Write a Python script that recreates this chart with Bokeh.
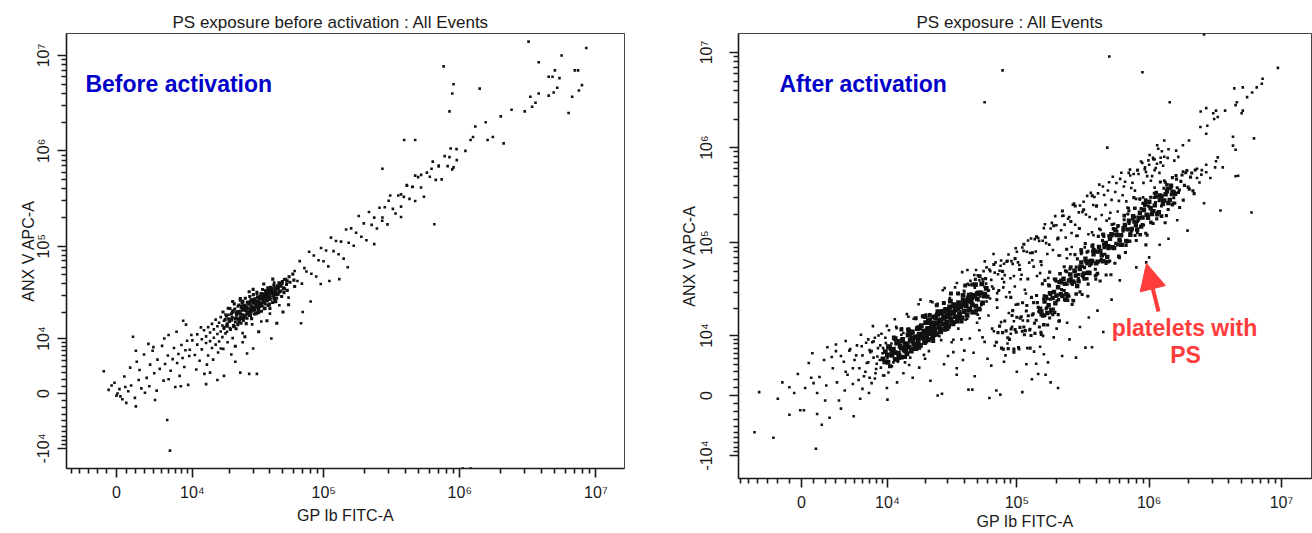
import numpy as np
from bokeh.plotting import figure
from bokeh.layouts import row
from bokeh.models import Range1d, FixedTicker, CustomJSTickFormatter, Label, Arrow, NormalHead
from bokeh.embed import file_html
from bokeh.resources import INLINE

# ---------------- data (fluorescence values, in thousands) ----------------
# Left panel: "PS exposure before activation"
before_tail_x = [-1.3, -0.8, -0.2, 0.1, 0.4, 0.9, 0.3, 0.6, 1.2, 1.5, 1.9, 2.0, 1.7, 2.3, 2.6, 2.4, 2.9, 3.2, 3.5, 3.6, 3.9, 4.2, 4.1, 4.5, 4.8, 5.1, 5.3, 5.5, 5.8, 6.2, 5.9, 6.3, 6.6, 6.8, 7.0, 7.3, 7.5, 7.7, 8.0, 8.2, 8.5, 8.7, 9.0, 9.2, 9.4, 0.8, 1.4, 2.1, 3.0, 1.0, 0.0, -0.5, 4.4, 6.0, 7.9, 2.0, 4.0, 5.4, 6.0, 8.3, 8.8, 7.2, 3.4]
before_tail_y = [3.2, 0.5, 1.5, 0.0, -0.4, 0.9, 0.6, -0.8, 0.3, 1.1, -0.6, -1.8, 10.5, 1.9, 0.7, 3.4, 6.2, 2.2, 1.0, 4.3, 7.0, -0.9, 2.9, 5.2, 3.6, 8.1, 1.8, 4.4, -3.9, -10.6, 6.0, 3.3, 5.3, 7.6, 0.9, 4.6, 6.3, 2.5, 8.3, 5.5, 3.9, 7.1, 9.4, 1.2, 5.9, 2.4, 3.8, 4.8, 0.1, -1.3, -0.3, 1.1, 0.4, 2.0, 1.0, 7.0, 7.8, 10.0, 11.0, 16.0, 14.5, 12.0, 8.6]

before_ramp_x = [9.5, 10, 10.5, 11, 11, 11.5, 12, 12, 12.5, 13, 13, 13.5, 13.5, 14, 14, 14.5, 14.5, 15, 15, 15.5, 15.5, 16, 16, 16.5, 16.5, 17, 17, 17.5, 17.5, 18, 18, 18.5, 18.5, 19, 19, 19.5, 20, 20, 10.8, 12.6, 11.8, 9.8, 13.2, 14.8, 16.2, 17.8, 19.2, 13, 14, 16, 18, 24, 27, 28, 32, 41, 22, 20.5, 25, 30]
before_ramp_y = [7.2, 9.5, 6.1, 8.4, 11.2, 5.0, 9.8, 7.3, 12.5, 8.8, 10.6, 6.0, 13.6, 9.3, 11.8, 7.6, 14.8, 10.2, 12.8, 8.4, 16.5, 11.3, 13.9, 9.2, 15.2, 12.1, 17.6, 10.4, 14.2, 13.0, 16.0, 11.5, 18.8, 14.6, 12.0, 16.9, 13.3, 15.6, 3.5, 2.8, 13.5, 11.0, 4.3, 5.2, 6.6, 7.4, 9.0, 1.3, 3.0, 1.9, 2.5, 3.0, 6.4, 2.8, 2.8, 10, 4.8, 6.2, 9.0, 7.5]

before_blob_x = [18.0, 18.4, 17.7, 19.1, 18.8, 19.4, 20.2, 19.7, 20.5, 20.0, 21.3, 20.8, 21.1, 21.6, 22.0, 22.5, 21.8, 22.3, 23.1, 22.7, 23.4, 23.0, 24.2, 23.8, 24.5, 24.0, 24.3, 25.1, 25.5, 24.8, 25.3, 26.0, 26.4, 25.8, 26.2, 26.6, 27.2, 26.9, 27.5, 27.0, 28.1, 28.5, 27.8, 28.3, 29.0, 29.4, 28.8, 29.2, 30.3, 29.8, 30.6, 30.1, 31.0, 31.5, 30.8, 32.2, 31.8, 32.6, 32.0, 33.1, 33.6, 32.9, 34.2, 33.8, 34.6, 35.0, 35.5, 34.8, 35.3, 36.3, 35.9, 36.7, 37.1, 37.6, 36.9, 38.2, 37.8, 38.6, 39.0, 39.5, 38.8, 40.2, 39.7, 40.6, 40.0, 42.3, 41.6, 42.8, 41.9, 44.2, 43.5, 44.8, 46.1, 45.5, 46.7, 48.3, 47.6, 48.9, 50.2, 49.5, 50.9, 53.1, 52.4, 53.8, 56.3, 55.5, 60.2, 59.1, 61.0, 22, 26, 33, 38, 45, 50, 55, 24, 30, 36, 42, 21, 28]
before_blob_y = [13.5, 16.5, 20.0, 14.8, 18.0, 22.0, 12.8, 16.0, 19.0, 21.8, 14.2, 17.5, 20.6, 24.5, 15.5, 18.4, 21.5, 13.0, 16.8, 19.9, 23.8, 14.5, 17.5, 20.4, 23.0, 26.8, 15.0, 18.7, 21.6, 24.9, 16.2, 18.1, 21.0, 23.6, 28.2, 14.9, 19.5, 22.6, 25.7, 17.1, 18.6, 21.3, 24.4, 29.4, 20.1, 23.1, 26.9, 16.9, 21.7, 25.1, 19.0, 30.8, 20.9, 23.8, 27.7, 22.5, 26.3, 19.7, 32.6, 24.3, 28.1, 21.4, 25.0, 29.7, 20.4, 23.3, 27.0, 31.6, 34.9, 25.8, 28.9, 22.0, 27.8, 32.3, 24.5, 26.5, 30.4, 36.2, 29.1, 33.2, 23.5, 27.3, 31.4, 36.9, 21.9, 29.9, 34.0, 38.7, 25.4, 32.1, 36.4, 28.2, 31.1, 35.5, 41.2, 33.7, 38.9, 29.4, 36.4, 42.3, 32.3, 39.4, 44.9, 34.2, 41.6, 47.6, 43.9, 50.8, 37.5, 8.0, 10.5, 12.0, 16, 15, 20, 24, 28, 35, 40, 45, 26, 33]

before_blob_edge = [(17, 7.5), (19.5, 18.7), (21, 10.1), (23, 23.0), (25, 11.6), (27, 25.5), (29.5, 14.6), (32, 31.2), (34.5, 15.7), (37, 34.0), (40, 19.2), (43, 41.3), (47, 23.7), (51, 44.9), (55, 28.6)]

before_core_x = [22, 24, 25, 26, 27, 28, 29, 30, 31, 32, 33, 34, 35, 36, 37, 38, 39, 40, 42, 44, 46, 48, 26, 30, 34, 28, 23, 36, 40, 45]
before_core_y = [17, 19, 21, 18, 22, 20, 23, 21, 25, 23, 26, 24, 28, 26, 29, 27, 31, 29, 32, 34, 36, 38, 23, 26, 29, 25, 20, 31, 34, 31]

before_core_2 = [(19, 14), (20.5, 16.5), (21.5, 13.8), (22.5, 19.5), (23.5, 15.6), (24.5, 22.5), (25.5, 17.2), (26.5, 20.8), (27.5, 24.8), (28.5, 18.5), (29.5, 27.0), (30.5, 22.4), (31.5, 19.3), (32.5, 28.8), (33.5, 23.0), (34.5, 31.5), (35.5, 25.5), (36.5, 21.8), (37.5, 33.5), (38.5, 28.5), (39.5, 24.2), (41.0, 35.5), (42.5, 30.5), (44.0, 26.0), (45.5, 38.0), (47.0, 33.0), (49.0, 40.5), (51.0, 35.5), (53.5, 43.0), (21, 20), (24, 17), (27, 19), (30, 27), (33, 20), (36, 30), (39, 36), (43, 28), (25, 26), (29, 21.5), (32, 24.5)]

before_band = [(61, 54.7), (64, 43.0), (66.5, 69.7), (69, 40.3), (72, 58.8), (74.5, 54.2), (78, 87.4), (81, 51.2), (84.5, 79.8), (88, 47.9), (91.5, 71.0), (95.5, 95.5), (99.5, 69.3), (104, 89.9), (108, 61.3), (113, 122.9), (118, 88.7), (123, 113.2), (128.5, 82.2), (134, 111.5), (140, 73.9), (146, 149.5), (152.5, 108.6), (159, 153.9), (166, 100.9), (173, 138.4), (181, 207.1), (189, 125.5), (197, 173.4), (206, 115.4), (215, 228.8), (225, 167.4), (235, 199.3), (246, 153.5), (257, 252.9), (269, 185.1), (281, 256.3), (294, 169.3), (308, 340.7), (322, 246.6), (337, 220.3), (353, 340.3), (370, 202.1), (388, 329.1), (407, 437.2), (427, 314.0), (448, 417.8), (470, 297.6), (494, 530.6), (519, 412.8), (545, 329.7), (573, 591.6), (602, 534.4), (633, 770.7), (666, 496.4), (700, 685.2), (736, 502.8), (774, 880.4), (814, 691.4), (856, 1060.8), (900, 671.4), (946, 1044), (235, 105), (68, 15), (80, 26), (110, 43), (70, 20), (95, 40), (150, 60), (130, 45)]

before_high_x = [270, 270, 300, 370, 370, 410, 450, 470, 520, 620, 650, 700, 840, 880, 950, 1100, 1200, 1250, 1300, 1550, 1600, 1750, 2000, 2100, 2400, 3000, 3300, 3400, 3600, 3800, 4500, 4500, 4800, 4900, 5200, 5400, 5600, 3800, 3200, 5000, 6300, 6700, 7000, 7400, 7500, 7900, 8500, 4300, 760, 900, 880, 840, 1400, 390, 470, 1050, 1200]
before_high_y = [200, 650, 300, 350, 260, 430, 420, 550, 560, 650, 170, 700, 860, 640, 800, 1000, 1300, 1400, 1800, 2000, 1300, 1400, 2300, 1200, 2700, 2600, 3700, 2900, 3200, 4000, 3800, 6000, 6000, 4100, 4600, 5800, 10000, 8500, 14000, 7000, 2500, 3700, 7000, 7000, 4300, 4900, 12000, 18500, 7700, 5000, 4000, 2600, 4500, 1300, 1300, -17, -17]

# Right panel: "PS exposure" (after activation)
after_tail_x = [-4.3, -3.8, -2.4, -1.6, -1.0, -1.0, -0.3, -0.1, 0.2, 0.6, 0.8, 1.2, 1.7, 1.3, 1.5, 2.0, 1.3, 2.1, 2.6, 2.7, 3.1, 3.5, 3.3, 3.9, 4.9, 4.8, 5.9, 5.5, 6.4, 6.6, 7.1, 8.2, 10, 7.8, 0.3, -0.6, 1.9, 3.0, 4.2, 5.2, 6.0, 7.4, 8.8, 9.2, 2.4, 3.8, 4.5, 5.7, 6.8, 0.9, 2.2, 4.0, 1.0, -2.0]
after_tail_y = [-5.0, 0.4, -6.0, 1.6, 1.0, -2.4, 2.7, -1.8, -1.8, 4.3, 2.2, -8.3, -3.8, -2.3, 2.3, -0.6, 0.3, 1.2, 5.3, 3.5, 1.6, -1.6, -0.6, 0.6, -2.6, 3.5, 7.4, 1.9, 3.0, 4.3, 6.2, 5.4, -0.5, 2.1, 0.9, 0.3, 4.8, 6.4, 2.6, 5.6, 0.8, 8.3, 3.6, 7.0, -2.8, 4.5, 6.8, -0.4, 9.0, 6.0, 7.2, 8.6, 1.5, -0.4]

after_rise_x = [3.5, 4.0, 4.4, 4.8, 5.0, 5.3, 5.6, 6.0, 6.2, 6.5, 6.8, 7.0, 7.3, 7.6, 7.8, 8.0, 8.3, 8.6, 8.9, 9.1, 9.4, 9.7, 10, 10.3, 10.6, 10.9, 11.2, 11.5, 11.8, 12.2, 12.5, 13, 13.5, 14, 14.5, 15, 3.0, 5.8, 7.5, 6.9, 9.9, 12, 16, 18, 20, 22, 28, 35, 33]
after_rise_y = [5.5, 3.0, 6.5, 1.4, 4.8, 7.6, 3.5, 5.6, 2.4, 8.2, 4.4, 6.6, 1.5, 5.2, 9.4, 3.4, 7.0, 4.8, 10.5, 6.0, 2.5, 8.1, 5.1, 11.5, 7.0, 3.8, 9.2, 6.0, 12.6, 4.5, 8.0, 10.2, 2.8, 6.4, 11.8, 4.0, 7.8, 10.2, 12.8, 0.3, 0.9, 1.6, 2.2, 3.6, 5.0, 1.8, 4.1, 2.6, 6.2]

after_main_core = [(9.2, 5.0), (9.6, 6.3), (10.1, 4.4), (10.4, 7.2), (10.9, 5.6), (11.2, 6.8), (11.6, 4.9), (11.9, 8.1),
                   (12.3, 6.0), (12.7, 7.4), (13.0, 5.3), (13.3, 9.0), (13.7, 6.6), (14.0, 8.0), (14.4, 5.9), (14.7, 10.1), (14.9, 7.2),
                   (15.3, 8.8), (15.6, 6.4), (15.9, 11.0), (16.3, 7.9), (16.7, 9.6), (17.0, 6.9), (17.4, 12.0), (17.7, 8.6), (18.0, 10.4),
                   (18.4, 7.6), (18.7, 13.0), (19.1, 9.3), (19.5, 11.3), (19.8, 8.2), (20.2, 14.0), (20.6, 10.0), (20.9, 12.1), (21.3, 8.9),
                   (21.7, 15.1), (22.1, 10.8), (22.5, 13.0), (22.9, 9.6), (23.3, 16.2), (23.8, 11.6), (24.2, 14.0), (24.6, 10.3), (25.0, 17.3),
                   (25.5, 12.5), (25.9, 15.0), (26.4, 11.0), (26.9, 18.5), (27.3, 13.4), (27.8, 16.1), (28.3, 11.8), (28.8, 19.6), (29.3, 14.3), (29.8, 17.2),
                   (30.3, 12.7), (30.9, 20.8), (31.5, 15.3), (32.1, 18.3), (32.7, 13.6), (33.3, 22.0), (34.0, 16.3), (34.7, 19.5), (35.4, 14.6), (36.1, 23.2),
                   (36.8, 17.4), (37.6, 20.8), (38.4, 15.8), (39.2, 24.6), (40.1, 18.6), (41.0, 22.2), (42.0, 16.9), (43.0, 26.0), (44.0, 19.9), (45.1, 23.7),
                   (46.3, 18.3), (47.5, 27.6), (48.8, 21.3), (50.2, 25.4), (51.7, 19.8), (53.3, 29.4), (55.0, 23.0), (56.8, 27.3), (58.7, 33.0),
                   (10.0, 5.7), (11.5, 6.1), (13.0, 7.0), (14.5, 7.8), (16.0, 8.5), (17.5, 9.3), (19.0, 10.2), (20.5, 11.1), (22.0, 12.0), (23.5, 12.9),
                   (25.0, 13.8), (26.5, 14.7), (28.0, 15.6), (29.5, 16.4), (31.0, 17.3), (32.5, 18.3), (34.0, 19.2), (35.5, 20.1), (37.0, 21.0), (38.5, 22.0),
                   (40.0, 23.0), (42.0, 24.1), (44.0, 25.3), (46.0, 26.5), (48.0, 27.7), (50.0, 28.9),
                   (12.1, 8.5), (15.1, 10.3), (18.1, 12.2), (21.1, 14.0), (24.1, 15.9), (27.1, 17.8), (30.1, 19.6), (33.1, 21.4),
                   (14.1, 6.4), (17.1, 7.6), (20.1, 8.9), (23.1, 10.2), (26.1, 11.5), (29.1, 12.9), (32.1, 14.3), (36.0, 16.0)]

after_main_core_2 = [(9.5, 4.5), (10.2, 7.3), (10.9, 6.0), (11.6, 9.2), (12.4, 5.2), (13.2, 8.6), (14.0, 7.1), (14.9, 11.2), (15.8, 9.3), (16.8, 7.6), (17.8, 12.3), (18.9, 10.0), (20.0, 16.4), (21.2, 10.5), (22.4, 13.9), (23.7, 10.4), (25.1, 18.5), (26.5, 14.9), (28.0, 18.7), (29.6, 13.7), (31.3, 24.1), (33.1, 17.9), (35.0, 21.3), (37.0, 15.9), (39.1, 27.7), (41.3, 21.3), (43.6, 27.8), (46.0, 22.1), (48.6, 36.1), (51.3, 29.5), (54.2, 36.8), (57.2, 28.5)]

after_main_core_3 = [(10.5, 3.8), (11.3, 9.5), (12.1, 4.9), (13.0, 11.7), (13.9, 5.3), (14.8, 11.8), (15.8, 6.9), (16.9, 15.7), (18.0, 7.1), (19.2, 16.5), (20.4, 8.5), (21.7, 17.0), (23.1, 8.6), (24.6, 21.7), (26.2, 11.9), (27.9, 23.0), (29.7, 11.9), (31.6, 29.0), (33.6, 14.2), (35.8, 29.1), (38.1, 14.4), (40.6, 35.3), (43.2, 19.0), (46.0, 36.3), (49.0, 19.0), (52.2, 44.2)]

after_main_halo_1 = [(7, 2.2), (7.6, 8.5), (8.1, 4.2), (8.7, 7.6), (9.2, 2.5), (9.9, 12.9), (10.5, 6.7), (11.2, 4.4), (11.9, 12.1), (12.7, 5.8), (13.5, 10.7), (14.4, 17.4), (15.3, 5.2), (16.3, 15.5), (17.3, 10.0), (18.4, 25.0), (19.6, 5.7), (20.8, 15.2), (22.1, 23.9), (23.5, 9.9), (25.0, 22.5), (26.6, 8.8), (28.3, 33.1), (30.1, 18.4), (32.0, 8.3), (34.0, 33.7), (36.2, 17.7), (38.5, 48.9), (40.9, 15.1), (43.5, 35.7), (46.2, 25.4), (49.1, 51.6), (52.2, 15.7), (55.5, 38.9), (59.0, 54.9), (62.7, 25.7), (66.6, 75.9), (70.8, 24.8), (75.3, 57.2), (80.0, 38.4)]

after_main_halo_2 = [(7.3, 6.4), (7.9, 2.8), (8.4, 10.0), (9.0, 5.1), (9.6, 9.4), (10.2, 2.9), (10.8, 8.0), (11.5, 15.3), (12.3, 5.4), (13.1, 12.1), (13.9, 4.4), (14.8, 16.3), (15.8, 10.4), (16.8, 6.7), (17.8, 22.3), (19.0, 10.1), (20.2, 17.2), (21.4, 6.4), (22.8, 23.5), (24.2, 17.2), (25.8, 9.8), (27.4, 31.5), (29.2, 17.2), (31.0, 26.0), (33.0, 8.9), (35.1, 37.6), (37.3, 18.7), (39.7, 31.0), (42.2, 51.5), (44.8, 19.3), (47.6, 45.7), (50.6, 17.2), (53.8, 36.0), (57.2, 63.5), (60.8, 27.4)]

after_mid_1 = [(40, 30.5), (43, 19.6), (44.5, 39.7), (47, 28.1), (49, 17.7), (52, 40.2), (53, 27.0), (56, 50.1), (58.5, 37.0), (60, 26.3), (63, 50.1), (65, 34.5), (68, 48.4), (70.5, 25.0), (72, 46.5), (76, 65.0), (79, 33.7), (81, 45.5), (85, 64.6), (88, 29.9), (91, 63.9), (95, 44.6), (98, 87.4), (102, 62.0), (107, 41.1), (110, 89.1), (115, 31.8), (119, 80.4), (124, 61.7), (128, 110.9), (134, 56.0), (139, 80.7), (145, 112.1), (150, 47.8), (157, 105.0), (163, 156.2), (170, 76.1), (176, 95.5), (184, 161.8), (191, 41.6), (199, 152.8), (207, 73.2), (216, 135.2), (225, 192.8), (234, 113.4), (244, 178.4), (254, 75.6), (265, 250.4), (276, 154.5), (288, 118.5), (300, 246.0), (313, 210.2), (326, 89.3), (340, 310.9), (355, 186.5), (370, 128.5), (386, 302.1), (402, 246.5), (420, 408.7), (438, 195.7), (457, 317.6), (477, 170.7), (498, 432.6), (520, 282.3), (543, 157.8), (566, 425.4), (591, 275.3), (617, 543.7), (644, 389.5), (672, 271.9), (701, 543.0), (732, 376.4), (764, 528.8), (797, 289.4), (832, 528.4), (868, 714.2), (906, 425.8), (946, 555.7), (987, 734.8), (1030, 447.8), (1075, 755.0), (1122, 611.4), (1171, 973.0), (1222, 781.3), (1275, 644.5)]

after_mid_2 = [(41.5, 24.8), (42.5, 36.8), (46, 17.9), (48, 33.4), (50.5, 45.3), (51, 24.5), (55, 41.3), (57, 34.2), (59, 23.8), (62, 52.0), (64, 40.5), (66.5, 32.7), (69, 62.0), (71, 29.3), (74, 50.7), (77.5, 41.6), (80, 60.0), (83, 26.6), (86.5, 75.1), (89.5, 42.2), (93, 59.8), (96.5, 34.5), (100, 80.3), (104.5, 58.2), (108.5, 46.0), (112.5, 82.0), (117, 29.0), (121.5, 105.4), (126, 77.8), (131, 65.3), (136.5, 109.0), (142, 44.6), (147.5, 104.5), (153.5, 58.2), (160, 142.5), (166.5, 98.9), (173, 42.4), (180, 141.3), (187.5, 83.9), (195, 190.3), (203, 108.9), (211.5, 73.2), (220.5, 190.7), (229.5, 154.8), (239, 68.7), (249, 186.1), (259.5, 126.5), (270.5, 257.7), (282, 118.1), (294, 208.7), (306.5, 76.2), (319.5, 269.6), (333, 198.0), (347.5, 122.9), (362.5, 334.3), (378, 248.9), (394, 177.1), (411, 330.5), (429, 136.3), (447.5, 390.2), (467, 250.2), (487.5, 353.5), (509, 206.3), (531.5, 494.5), (554.5, 341.3), (578.5, 213.2), (604, 469.2), (630.5, 315.6), (658, 438.0), (686.5, 233.7), (716.5, 586.6), (748, 427.7), (780.5, 352.8), (814.5, 579.6), (850, 284.6), (887, 690.9), (926, 593.3), (966.5, 502.0), (1008.5, 836.8), (1052.5, 501.0), (1098.5, 752.5), (1146.5, 677.9), (1196.5, 542.9), (1248.5, 915.8), (1300, 802.2)]

after_mid_3 = [(45, 28.9), (48.5, 41.0), (54, 22.0), (58, 41.8), (61, 31.2), (67, 59.0), (73, 31.2), (78, 49.9), (84, 63.4), (90, 26.4), (97, 67.9), (105, 52.2), (113, 96.3), (121, 41.4), (131, 78.5), (141, 115.2), (152, 63.3), (164, 114.1), (177, 48.9), (190, 150.6), (205, 111.7), (221, 215.7), (238, 85.3), (256, 167.1), (276, 243.5), (297, 140.9), (320, 221.9), (345, 81.4), (372, 311.3), (400, 241.9)]

after_ps_1 = [(70, 8.3), (74, 12.8), (79, 6.8), (83, 11.3), (88, 9.0), (93, 19.0), (97, 11.7), (103, 7.1), (108, 16.3), (113, 12.5), (119, 21.6), (125, 11.6), (131, 17.0), (137, 10.6), (143, 23.2), (150, 18.1), (156, 36.8), (163, 16.8), (170, 25.5), (177, 15.8), (185, 25.6), (193, 40.6), (201, 24.3), (210, 14.7), (219, 37.5), (228, 31.2), (238, 49.5), (248, 27.1), (258, 42.0), (269, 24.2), (281, 55.3), (293, 46.1), (305, 84.0), (318, 43.2), (332, 63.3), (346, 36.5), (361, 58.9), (376, 95.1), (392, 52.5), (409, 79.2), (426, 39.4), (444, 105.2), (463, 75.5), (483, 92.7), (504, 64.2), (525, 155.3), (548, 88.4), (571, 132), (596, 69.6), (621, 119.6), (648, 174.1), (676, 101.3), (705, 159.0), (735, 132.6), (766, 298), (799, 105.6), (833, 174), (869, 229.3), (906, 153.6), (945, 94.9), (985, 196.0), (1027, 301.1), (1071, 159.1), (1117, 264.6), (1165, 208.2), (1215, 435.8), (1267, 273.5), (1321, 162.3), (1378, 372.7), (1437, 283.4), (1499, 483.8), (1563, 259.7), (1630, 378.0), (1700, 234.9), (1773, 515.8), (1849, 400.9), (1928, 575), (2011, 365.8), (2097, 541.3), (2187, 328.0)]

after_ps_2 = [(72, 10.8), (76.5, 7.0), (81, 14.6), (85.5, 9.4), (90.5, 11.9), (95, 6.8), (100, 16.1), (105.5, 12.4), (110.5, 23.1), (116, 11.4), (122, 16.7), (128, 10.0), (134, 23.2), (140, 14.9), (146.5, 18.6), (153, 10.3), (159.5, 25.5), (166.5, 20.0), (173.5, 36.0), (181, 18.0), (189, 29.6), (197, 27.0), (205.5, 17.2), (214.5, 40.3), (223.5, 26.8), (233, 50.5), (243, 24.5), (253, 41.3), (263.5, 36.2), (275, 74.8), (287, 34.5), (299, 56.9), (311.5, 28.3), (325, 54.6), (339, 79.2), (353.5, 47.8), (368.5, 59.9), (384, 84.5), (400.5, 45.6), (417.5, 81.9), (435, 66.8), (453.5, 122.7), (473, 60.3), (493.5, 93.3), (514.5, 45.9), (536.5, 123.2), (559.5, 98.4), (583.5, 151.4), (608.5, 94.0), (634.5, 132.5), (662, 78.9), (690.5, 200.8), (720, 126.6), (750.5, 177.5), (782.5, 119.1), (816, 167.3), (851, 290.1), (887.5, 155.2), (925.5, 244.3), (965, 120.1), (1006, 237.6), (1049, 213.0), (1094, 331.2), (1141, 178.2), (1190, 276.2), (1241, 242.9), (1294, 374.4), (1349.5, 192.6), (1407.5, 371.7), (1468, 319.1), (1531, 261.4), (1596.5, 509.8), (1665, 338.4), (1736.5, 441.3), (1811, 280.2), (1888.5, 544.3), (1969.5, 384.2), (2054, 489.8), (2142, 352.1), (2230, 581.9)]

after_ps_3 = [(78, 10.8), (86, 6.9), (92, 16.8), (99, 10.9), (106, 15.7), (114, 10.2), (121, 14.7), (129, 26.4), (136, 13.8), (145, 20.6), (152, 10.9), (161, 27.5), (169, 20.6), (179, 25.2), (187, 17.2), (197, 41.3), (207, 25.0), (218, 38.9), (229, 25.0), (240, 36.4), (252, 53.0), (265, 24.6), (278, 50.1), (292, 41.8), (307, 84.2), (322, 41.2), (338, 59.8), (355, 57.1), (373, 81.4), (392, 45.0), (411, 80.4), (432, 64.7), (454, 116.3), (476, 63.3), (500, 92.0), (525, 118.0), (551, 60.8), (579, 148.7), (608, 103.4), (638, 137.4), (670, 93.6), (703, 216.6), (738, 139.5), (775, 186.0), (814, 127.8), (855, 184.2), (897, 259.2), (942, 125.6), (989, 243), (1039, 202), (1091, 298.8), (1145, 199.1), (1202, 284.6), (1262, 277.2), (1325, 432.2), (1392, 223.9), (1461, 373.9), (1534, 296.7), (1611, 467), (1692, 358.1)]

after_ps_4 = [(95, 6.2), (102, 22.3), (110, 11.2), (118, 18.8), (126, 7.0), (133, 17.6), (141, 27.6), (148, 12.5), (155, 18.9), (163, 40.0), (171, 13.2), (180, 28.3), (189, 19.8), (198, 39.2), (208, 14.5), (218, 31.9), (228, 55.8), (239, 25.8), (250, 46.4), (262, 22.2), (274, 38.1), (287, 67.6), (300, 30.2), (314, 56.2), (329, 97.9), (344, 27.1), (360, 60.0), (377, 87.6), (395, 41.3), (413, 116.6), (432, 64.7), (452, 96.9), (473, 45.6), (495, 118.2)]

after_ps_extra = [(2400, 430), (2480, 520), (2600, 260), (3460, 218), (4700, 506), (2300, 600), (1800, 560), (1400, 110), (1630, 172), (1950, 134), (600, 40), (800, 55), (1000, 70), (950, 62), (1200, 95), (700, 230), (900, 300), (1100, 380), (1300, 450), (500, 180), (420, 140), (380, 120), (260, 90)]

after_ps_core_1 = [(150, 20.0), (158, 16.8), (166, 26.7), (174, 21.7), (182, 19.3), (191, 30.2), (200, 27.7), (210, 38.4), (220, 27.5), (231, 36.9), (242, 27.7), (254, 46.2), (266, 39.1), (279, 45.1), (293, 39.1), (307, 61.9), (322, 47.5), (338, 63.2), (354, 47.9), (371, 64.2), (389, 81.1), (408, 63.2), (428, 81.5), (449, 63.8), (471, 99.3), (494, 88.0), (518, 122.9), (543, 87.6), (569, 120.6), (597, 107.0), (626, 94.9), (656, 153.9), (688, 138), (721, 121.2), (756, 189.9), (793, 153.5), (831, 183.4), (871, 147.7), (913, 220.6), (957, 196.8), (1003, 270.0), (1052, 200.1), (1103, 246.8), (1156, 198.9), (1212, 313.6), (1271, 256.6), (1332, 323.7), (1396, 262.1), (1464, 396.9), (1535, 338.1)]

after_ps_core_2 = [(154, 17.3), (162, 23.8), (170, 17.9), (178, 29.2), (186.5, 26.1), (195.5, 22.8), (205, 33.9), (215, 28.5), (225.5, 41.7), (236.5, 28.6), (248, 39.9), (260, 38), (272.5, 50.6), (286, 34.8), (300, 52.8), (314.5, 45.6), (330, 67.7), (346, 48.2), (362.5, 64.3), (380, 75.4), (398.5, 60.6), (418, 90.2), (438.5, 73.8), (460, 89.9), (482.5, 70.6), (506, 110.2), (530.5, 89.6), (556, 136.4), (583, 96.0), (611.5, 119.8), (641, 141.9), (672, 104.5), (704.5, 170.3), (738.5, 139.6), (774.5, 166.7), (812, 137.7), (851, 206.5), (892, 184.3), (935, 253.4), (980, 182.3), (1027.5, 230.7), (1077.5, 214.8), (1129.5, 305.0), (1184, 209.6), (1241.5, 306.4), (1301.5, 278.4), (1364, 347.7), (1430, 282.5), (1499.5, 343.7), (1572, 326.6)]

after_ps_core_3 = [(160, 13.3), (176, 35.1), (193, 18.2), (212, 47.1), (233, 24.6), (256, 55.5), (281, 28.7), (308, 79.5), (338, 41.7), (371, 92.2), (407, 47.3), (447, 122.2), (490, 62.9), (538, 140.2), (590, 72.1), (648, 192.6), (711, 103.7), (780, 230.7), (856, 121.2), (940, 280.8), (1031, 163.7), (1132, 336.7), (1242, 190.6), (1363, 406.7), (1496, 251.8)]

after_low = [(70, 0.6), (75, 0.1), (110, 0.4), (180, 1.6), (205, 0.9), (165, 2.6), (140, 4.2), (150, 7.3), (220, 5.5), (250, 9.0), (300, 12.5), (200, 12),
             (120, 7.0), (85, 8.0), (100, 3.0), (60, 5.0), (25, 0.0), (27, 0.2), (43, 0.7), (46, 0.7), (62, -0.3), (330, 7.1), (370, 7.2), (407, 19),
             (35, 3.5), (40, 6.5), (48, 2.4), (55, 9.5), (65, 12), (80, 4.5), (90, 10.5), (130, 2.0), (160, 5.8), (190, 9.5), (240, 14), (280, 5.2),
             (350, 16), (450, 11), (520, 25), (30, 5.5), (38, 9.0), (52, 11.5), (68, 7.5), (95, 14.5),
             (36, 12), (39, 4.8), (42, 15.5), (44, 9.2), (47, 6.1), (50, 14.0), (53, 19.5), (57, 8.4), (61, 16.8), (64, 3.9), (67, 11.2), (71, 20.5),
             (76, 14.2), (82, 5.6), (87, 17.9), (92, 12.6), (98, 22.0), (104, 6.8), (111, 14.8), (118, 4.1), (126, 11.9), (135, 6.3), (145, 2.7),
             (158, 9.9), (172, 4.4)]

after_top_x = [9400, 7200, 7100, 6500, 5100, 4400, 6000, 5500, 4600, 4500, 3750, 3200, 3050, 2700, 2450, 3300, 3100, 2750, 2440, 2700, 5100, 5000, 4300, 6200, 4300, 4500, 3300, 3200, 3150, 3600, 2700, 2500, 2300, 2700, 2900, 4500, 2000, 1800, 1600, 1660, 1400, 1550, 1300, 1150, 1380, 1220, 1070, 1000, 1100, 930, 820, 720, 78, 57, 500, 890, 1430, 2600, 483, 5940]
after_top_y = [6900, 5300, 4700, 4300, 4300, 4200, 3800, 3400, 3000, 2800, 2450, 2450, 2300, 2600, 2400, 2100, 2000, 1700, 1650, 1400, 2450, 2300, 1300, 1250, 1050, 950, 790, 720, 620, 620, 660, 580, 480, 550, 480, 500, 1190, 1060, 930, 800, 960, 730, 1190, 1060, 780, 700, 780, 660, 580, 620, 580, 510, 6500, 3000, 9100, 6200, 3000, 15500, 1000, 208]

# ---------------- axes ----------------
x_tick_values = [0, 1e4, 1e5, 1e6, 1e7]
x_tick_labels = ["0", "10\u2074", "10\u2075", "10\u2076", "10\u2077"]
y_tick_values = [-1e4, 0, 1e4, 1e5, 1e6, 1e7]
y_tick_labels = ["-10\u2074", "0", "10\u2074", "10\u2075", "10\u2076", "10\u2077"]
minor_tick_values = ([k * 1000.0 for k in range(-9, 10) if k != 0]
                     + [-2e4] + [m * 10.0 ** d for d in (4, 5, 6) for m in range(2, 10)])

FONT = "Liberation Sans"
INK = "#1a1a1a"
BLUE = "#0000c8"
RED = "#ff3c3c"


def tr(values_k, w):
    """arcsinh (biexponential-like) display transform; values given in thousands"""
    return np.arcsinh(np.asarray(values_k, dtype=float) * 1000.0 / w)


def xy(pairs):
    xs, ys = zip(*pairs)
    return list(xs), list(ys)


def setup_axis(axis, values, labels, w, label, label_standoff, title_standoff):
    pos = [float(np.arcsinh(v / w)) for v in values]
    minors = [float(np.arcsinh(v / w)) for v in minor_tick_values]
    axis.ticker = FixedTicker(ticks=pos, minor_ticks=minors)
    axis.formatter = CustomJSTickFormatter(args=dict(pos=pos, labs=labels), code="""
        let best = 0, d = Infinity;
        for (let i = 0; i < pos.length; i++) {
            const dd = Math.abs(pos[i] - tick);
            if (dd < d) { d = dd; best = i; }
        }
        return labs[best];
    """)
    axis.axis_label = label
    axis.major_tick_out = 9
    axis.major_tick_in = 0
    axis.minor_tick_out = 5
    axis.minor_tick_in = 0
    axis.axis_line_color = INK
    axis.axis_line_width = 1.6
    axis.major_tick_line_color = INK
    axis.major_tick_line_width = 1.6
    axis.minor_tick_line_color = INK
    axis.minor_tick_line_width = 1.6
    axis.major_label_text_font = FONT
    axis.major_label_text_font_size = "16px"
    axis.major_label_text_color = INK
    axis.major_label_standoff = label_standoff
    axis.axis_label_text_font = FONT
    axis.axis_label_text_font_size = "16px"
    axis.axis_label_text_font_style = "normal"
    axis.axis_label_text_color = INK
    axis.axis_label_standoff = title_standoff


def make_panel(width, xr, yr, borders, wx, wy, title, title_offset, x_std, y_std, groups):
    left, right, top, bottom = borders
    p = figure(width=width, height=533, x_range=Range1d(*xr), y_range=Range1d(*yr),
               output_backend="svg", toolbar_location=None,
               min_border_left=left, min_border_right=right,
               min_border_top=top, min_border_bottom=bottom)
    try:
        p.frame_align = False
    except Exception:
        pass
    p.grid.visible = False
    p.background_fill_color = "white"
    p.border_fill_color = "white"
    p.outline_line_color = "#444444"
    p.outline_line_width = 1
    p.title.text = title
    p.title.text_font = FONT
    p.title.text_font_size = "17px"
    p.title.text_font_style = "normal"
    p.title.text_color = INK
    p.title.align = "left"
    p.title.offset = title_offset
    p.title.standoff = 3
    setup_axis(p.xaxis[0], x_tick_values, x_tick_labels, wx, "GP Ib FITC-A", *x_std)
    setup_axis(p.yaxis[0], y_tick_values, y_tick_labels, wy, "ANX V APC-A", *y_std)
    p.yaxis[0].major_label_orientation = "vertical"
    for (gx, gy), size in groups:
        n = min(len(gx), len(gy))
        p.scatter(x=tr(gx[:n], wx), y=tr(gy[:n], wy), marker="square", size=size,
                  fill_color="#111111", line_color=None)
    return p


DOT = 2.6      # single event
DENSE = 3.1    # events inside crowded populations (overlapping dots)

# left panel: transform widths, ranges in display units
WX1, WY1 = 6000.0, 5700.0
p1 = make_panel(655, (-0.846, 8.596), (-1.812, 8.696), (66, 31, 33, 65), WX1, WY1,
                "PS exposure before activation : All Events", 106, (6, 3), (5, -4),
                [((before_tail_x, before_tail_y), DOT), ((before_ramp_x, before_ramp_y), DOT),
                 ((before_blob_x, before_blob_y), DENSE), (xy(before_blob_edge), DOT),
                 (xy(before_band), DOT), ((before_high_x, before_high_y), DOT),
                 ((before_core_x, before_core_y), 3.6), (xy(before_core_2), 3.6)])
p1.add_layout(Label(x=-0.525, y=7.488, text="Before activation", text_font=FONT,
                    text_font_size="23px", text_font_style="bold", text_color=BLUE,
                    text_baseline="middle", text_align="left"))

# right panel
WX2, WY2 = 4720.0, 4950.0
p2 = make_panel(657, (-1.096, 8.874), (-2.01, 8.765), (83, 1, 33, 55), WX2, WY2,
                "PS exposure : All Events", 178, (6, -1), (14, -2),
                [((after_tail_x, after_tail_y), DOT), ((after_rise_x, after_rise_y), DOT),
                 (xy(after_main_halo_1), DOT), (xy(after_main_halo_2), DOT),
                 (xy(after_mid_1), DOT), (xy(after_mid_2), DOT), (xy(after_mid_3), DENSE),
                 (xy(after_ps_1), DENSE), (xy(after_ps_2), DENSE), (xy(after_ps_3), DENSE),
                 (xy(after_ps_4), DENSE), (xy(after_ps_extra), DOT), (xy(after_low), DOT),
                 ((after_top_x, after_top_y), DOT),
                 (xy(after_main_core), 4.8), (xy(after_main_core_2), 4.8), (xy(after_main_core_3), 4.0),
                 (xy(after_ps_core_1), 4.4), (xy(after_ps_core_2), 4.4), (xy(after_ps_core_3), 3.6)])
p2.add_layout(Label(x=-0.383, y=7.554, text="After activation", text_font=FONT,
                    text_font_size="23px", text_font_style="bold", text_color=BLUE,
                    text_baseline="middle", text_align="left"))
p2.add_layout(Label(x=6.664, y=1.646, text="platelets with", text_font=FONT,
                    text_font_size="23px", text_font_style="bold", text_color=RED,
                    text_baseline="middle", text_align="center"))
p2.add_layout(Label(x=6.682, y=0.969, text="PS", text_font=FONT,
                    text_font_size="23px", text_font_style="bold", text_color=RED,
                    text_baseline="middle", text_align="center"))
p2.add_layout(Arrow(end=NormalHead(size=26, fill_color=RED, line_color=RED, line_width=1),
                    x_start=6.212, y_start=2.034, x_end=6.003, y_end=3.196,
                    line_color=RED, line_width=4))

layout = row(p1, p2)
open("out.html", "w").write(file_html(layout, INLINE))
